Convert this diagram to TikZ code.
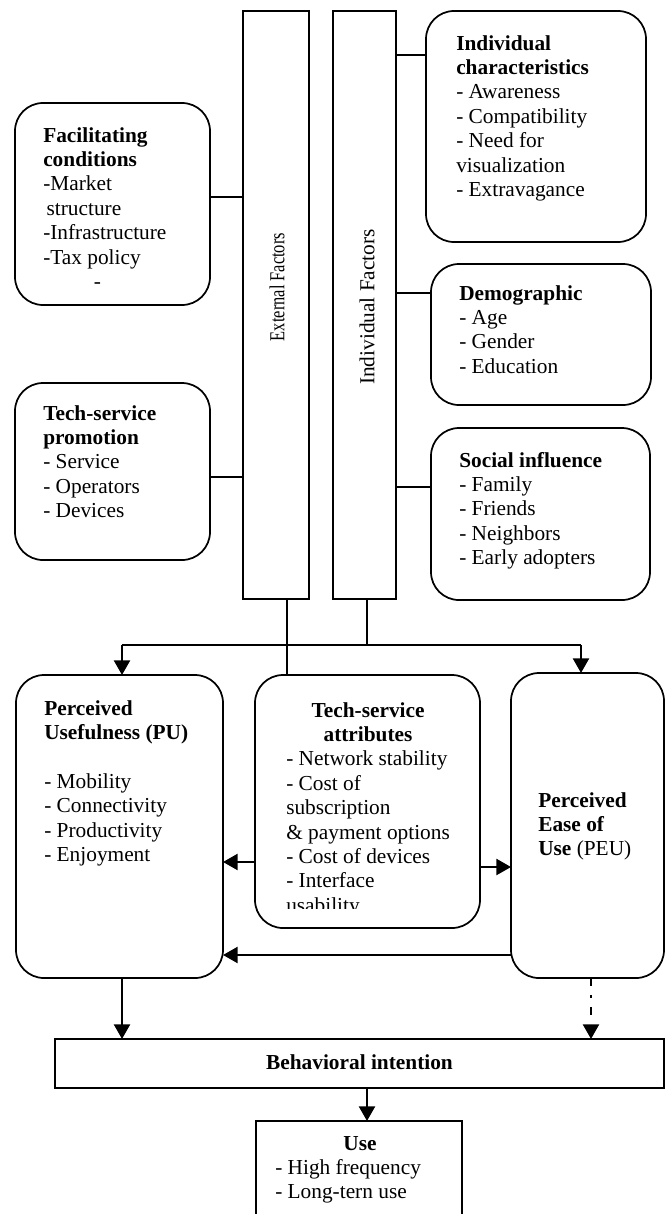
\documentclass[tikz,border=0pt]{standalone}
\usepackage{fontspec}
\setmainfont{Liberation Serif}
\usepackage{graphicx}
\usetikzlibrary{arrows.meta}
\newcommand\pxu{0.75pt}
\newcommand\mainsz{\fontsize{16pt}{18.3pt}\selectfont}
\newcommand\lns[1]{\begin{tabular}[t]{@{}l@{}}#1\end{tabular}}
\tikzset{
  boxr/.style={draw, line width=1.3pt, rounded corners=21pt, inner sep=0pt, outer sep=0pt},
  boxs/.style={draw, line width=1.3pt, inner sep=0pt, outer sep=0pt},
  conn/.style={line width=1.4pt},
  arr/.style={line width=1.8pt, -{Triangle[width=12pt,length=11pt]}},
  txt/.style={anchor=base west, inner sep=0pt, font=\mainsz},
  ctxt/.style={anchor=base, inner sep=0pt, font=\mainsz},
  vtxt/.style={anchor=center, inner sep=0pt, font=\mainsz, rotate=90},
}
\begin{document}
\begin{tikzpicture}[x=0.75pt, y=-0.75pt]
\useasboundingbox (0,0) rectangle (666,1214);
\clip (0,0) rectangle (666,1214);

% bars
\node[boxs, minimum width=66*\pxu, minimum height=588*\pxu] (ext) at (276,305) {};
\node[boxs, minimum width=63*\pxu, minimum height=588*\pxu] (ind) at (364.5,305) {};
\node[vtxt] (ext-t) at (277,287) {\scalebox{0.77}[1]{External Factors}};
\node[vtxt] (ind-t) at (367,307) {Individual Factors};

% left boxes
\node[boxr, minimum width=195*\pxu, minimum height=202*\pxu] (fc) at (112.5,204) {};
\node[boxr, minimum width=195*\pxu, minimum height=177*\pxu] (tsp) at (112.5,471.5) {};
% right boxes
\node[boxr, minimum width=220*\pxu, minimum height=231*\pxu] (ic) at (536,126.5) {};
\node[boxr, minimum width=220*\pxu, minimum height=141*\pxu] (dem) at (541,334.5) {};
\node[boxr, minimum width=219*\pxu, minimum height=172*\pxu] (si) at (540.5,514) {};
% middle row
\node[boxr, minimum width=207*\pxu, minimum height=303*\pxu] (pu) at (119.5,826.5) {};
\node[boxr, minimum width=225*\pxu, minimum height=253*\pxu] (tsa) at (367.5,801.5) {};
\node[boxr, minimum width=153*\pxu, minimum height=305*\pxu] (peu) at (587.5,825.5) {};
% bottom
\node[boxs, minimum width=609*\pxu, minimum height=49*\pxu] (bi) at (359.5,1063.5) {};
\node[boxs, minimum width=206*\pxu, minimum height=119*\pxu] (use) at (359,1180.5) {};

% texts
\node[txt] (fc-t) at (43,142) {\lns{\textbf{Facilitating}\\ \textbf{conditions}\\ -Market\\ \hspace*{2.5pt}structure\\ -Infrastructure\\ -Tax policy\\ \hspace*{38pt}-}};
\node[txt] (tsp-t) at (43,420) {\lns{\textbf{Tech-service}\\ \textbf{promotion}\\ - Service\\ - Operators\\ - Devices}};
\node[txt] (ic-t) at (456,50) {\lns{\textbf{Individual}\\ \textbf{characteristics}\\ - Awareness\\ - Compatibility\\ - Need for\\ visualization\\ - Extravagance}};
\node[txt] (dem-t) at (459,300) {\lns{\textbf{Demographic}\\ - Age\\ - Gender\\ - Education}};
\node[txt] (si-t) at (459,467) {\lns{\textbf{Social influence}\\ - Family\\ - Friends\\ - Neighbors\\ - Early adopters}};
\node[txt] (pu-t) at (44,715) {\lns{\textbf{Perceived}\\ \textbf{Usefulness (PU)}\\ \\ - Mobility\\ - Connectivity\\ - Productivity\\ - Enjoyment}};
\begin{scope}
\clip (0,0) rectangle (666,908);
\node[txt] (tsa-t) at (286,717) {\lns{\multicolumn{1}{c}{\textbf{Tech-service}}\\ \multicolumn{1}{c}{\textbf{attributes}}\\ - Network stability\\ - Cost of\\ subscription\\ \& payment options\\ - Cost of devices\\ - Interface\\ usability}};
\end{scope}
\node[txt] (peu-t) at (538,807) {\lns{\textbf{Perceived}\\ \textbf{Ease of}\\ \textbf{Use} (PEU)}};
\node[ctxt] (bi-t) at (359.5,1069) {\textbf{Behavioral intention}};
\node[ctxt] (use-t) at (360,1150) {\textbf{Use}};
\node[txt] (use-l) at (275,1174) {\lns{- High frequency\\ - Long-tern use}};

% helper coordinates
\coordinate (hfc) at (0,197);
\coordinate (htsp) at (0,477);
\coordinate (hic) at (0,55);
\coordinate (hdem) at (0,293);
\coordinate (hsi) at (0,487);
\coordinate (hbus) at (0,645);
\coordinate (ha1) at (0,862);
\coordinate (ha2) at (0,867);
\coordinate (ha3) at (0,955);
\coordinate (vext) at (287,0);
\coordinate (vind) at (367,0);
\coordinate (vpu) at (122,0);
\coordinate (vpeu) at (581,0);
\coordinate (vdash) at (591,0);
\coordinate (busL) at (vpu |- hbus);
\coordinate (busR) at (vpeu |- hbus);

% connectors
\draw[conn] (fc.east |- hfc) -- (ext.west |- hfc);
\draw[conn] (tsp.east |- htsp) -- (ext.west |- htsp);
\draw[conn] (ind.east |- hic) -- (ic.west |- hic);
\draw[conn] (ind.east |- hdem) -- (dem.west |- hdem);
\draw[conn] (ind.east |- hsi) -- (si.west |- hsi);
\draw[conn] (vext |- ext.south) -- (vext |- tsa.north);
\draw[conn] (vind |- ind.south) -- (vind |- hbus);
\draw[conn] (busL) -- (busR);
\draw[arr] (busL) -- (vpu |- pu.north);
\draw[arr] (busR) -- (vpeu |- peu.north);
\draw[arr] (tsa.west |- ha1) -- (pu.east |- ha1);
\draw[arr] (tsa.east |- ha2) -- (peu.west |- ha2);
\draw[arr] (peu.west |- ha3) -- (pu.east |- ha3);
\draw[arr] (vpu |- pu.south) -- (vpu |- bi.north);
\draw[arr, dash pattern=on 6pt off 7pt on 2pt off 7pt] (vdash |- peu.south) -- (vdash |- bi.north);
\draw[arr] (vind |- bi.south) -- (vind |- use.north);
\end{tikzpicture}
\end{document}
